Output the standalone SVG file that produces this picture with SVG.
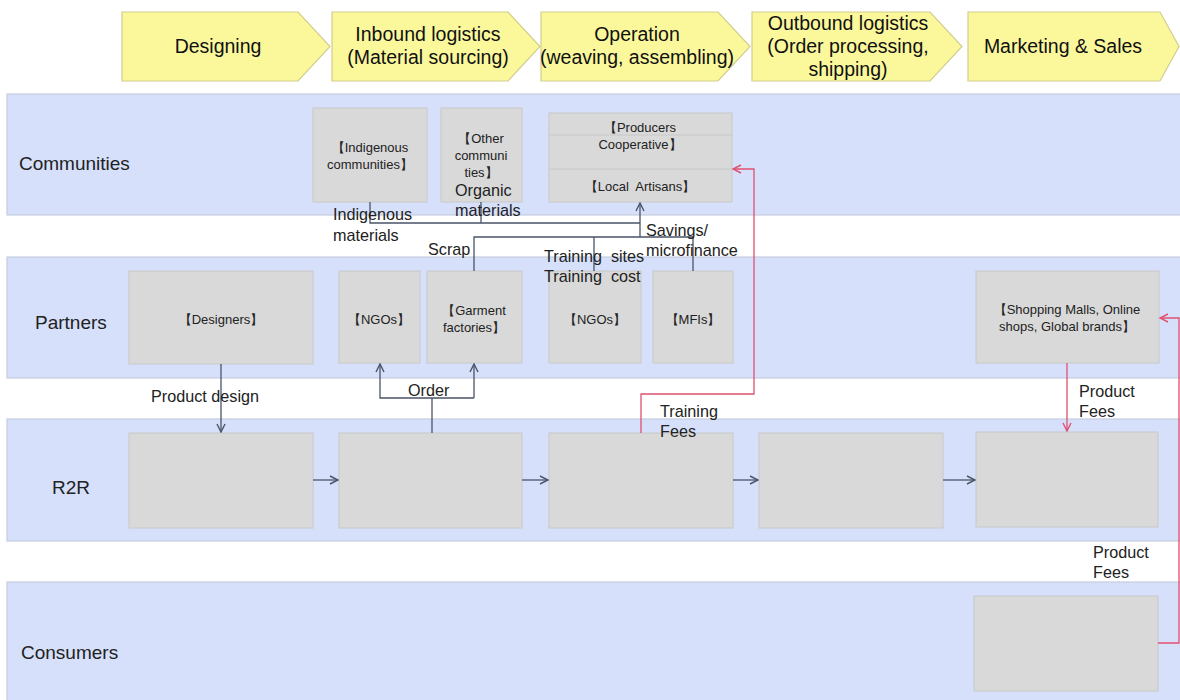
<svg xmlns="http://www.w3.org/2000/svg" width="1180" height="700" viewBox="0 0 1180 700">
<defs>
<style>
.chev{fill:#fbf89c;stroke:#d2cd8e;stroke-width:1.2}
.lane{fill:#d6e0fb;stroke:#c4ccde;stroke-width:1.2}
.box{fill:#d9d9d9;stroke:#c8c8c8;stroke-width:1}
.ht{font-family:"Liberation Sans",Arial,sans-serif;font-size:19.5px;fill:#111;text-anchor:middle}
.lt{font-family:"Liberation Sans",Arial,sans-serif;font-size:19px;fill:#222}
.bt{font-family:"Liberation Sans",Arial,sans-serif;font-size:13px;fill:#222;text-anchor:middle}
.cl{font-family:"Liberation Sans",Arial,sans-serif;font-size:16.2px;fill:#222}
.dk{fill:none;stroke:#4a5468;stroke-width:1.3}
.rd{fill:none;stroke:#e0506f;stroke-width:1.3}
</style>
<marker id="ad" viewBox="0 0 10 10" refX="9" refY="5" markerWidth="10" markerHeight="10" markerUnits="userSpaceOnUse" orient="auto"><path d="M1,1 L9,5 L1,9" fill="none" stroke="#4a5468" stroke-width="1.4"/></marker>
<marker id="ar" viewBox="0 0 10 10" refX="9" refY="5" markerWidth="10" markerHeight="10" markerUnits="userSpaceOnUse" orient="auto"><path d="M1,1 L9,5 L1,9" fill="none" stroke="#e0506f" stroke-width="1.4"/></marker>
</defs>
<rect width="1180" height="700" fill="#ffffff"/>

<g id="stages">
<g id="stage-designing"><polygon class="chev" points="122,12 298,12 330,46.5 298,81 122,81"/><text class="ht" x="218" y="53">Designing</text></g>
<g id="stage-inbound"><polygon class="chev" points="332,12 508,12 540,46.5 508,81 332,81"/><text class="ht" x="428" y="41">Inbound logistics</text><text class="ht" x="428" y="64">(Material sourcing)</text></g>
<g id="stage-operation"><polygon class="chev" points="541,12 718,12 750,46.5 718,81 541,81"/><text class="ht" x="637" y="41">Operation</text><text class="ht" x="637" y="64">(weaving, assembling)</text></g>
<g id="stage-outbound"><polygon class="chev" points="752,12 930,12 962,46.5 930,81 752,81"/><text class="ht" x="848" y="30">Outbound logistics</text><text class="ht" x="848" y="53">(Order processing,</text><text class="ht" x="848" y="76">shipping)</text></g>
<g id="stage-marketing"><polygon class="chev" points="968,12 1160,12 1179,46.5 1160,81 968,81"/><text class="ht" x="1063" y="53">Marketing &amp; Sales</text></g>
</g>

<g id="lanes">
<g id="lane-communities"><rect class="lane" x="7" y="94" width="1180" height="121"/><text class="lt" x="19" y="170">Communities</text></g>
<g id="lane-partners"><rect class="lane" x="7" y="257" width="1180" height="121"/><text class="lt" x="35" y="329">Partners</text></g>
<g id="lane-r2r"><rect class="lane" x="7" y="419" width="1180" height="122"/><text class="lt" x="52" y="494">R2R</text></g>
<g id="lane-consumers"><rect class="lane" x="7" y="582" width="1180" height="125"/><text class="lt" x="21" y="659">Consumers</text></g>
</g>

<g id="node-indigenous"><rect class="box" x="313" y="108" width="114" height="94"/><text class="bt" x="370" y="152">【Indigenous</text><text class="bt" x="370" y="169">communities】</text></g>
<g id="node-other"><rect class="box" x="441" y="108" width="81" height="94"/><text class="bt" x="481" y="143">【Other</text><text class="bt" x="481" y="160">communi</text><text class="bt" x="481" y="177">ties】</text></g>
<g id="node-coop"><rect class="box" x="549" y="113" width="183" height="89"/><line x1="549" y1="135" x2="732" y2="135" stroke="#c8c8c8"/><line x1="549" y1="169" x2="732" y2="169" stroke="#c8c8c8"/><text class="bt" x="640" y="132">【Producers</text><text class="bt" x="640" y="149">Cooperative】</text><text class="bt" x="640" y="191" xml:space="preserve">【Local  Artisans】</text></g>

<g id="node-designers"><rect class="box" x="129" y="271" width="184" height="93"/><text class="bt" x="221" y="324">【Designers】</text></g>
<g id="node-ngos1"><rect class="box" x="339" y="271" width="81" height="92"/><text class="bt" x="379" y="324">【NGOs】</text></g>
<g id="node-garment"><rect class="box" x="427" y="271" width="95" height="92"/><text class="bt" x="474" y="315">【Garment</text><text class="bt" x="474" y="332">factories】</text></g>
<g id="node-ngos2"><rect class="box" x="549" y="271" width="92" height="92"/><text class="bt" x="595" y="324">【NGOs】</text></g>
<g id="node-mfis"><rect class="box" x="653" y="271" width="80" height="92"/><text class="bt" x="693" y="324">【MFIs】</text></g>
<g id="node-malls"><rect class="box" x="976" y="271" width="183" height="92"/><text class="bt" x="1067" y="314">【Shopping Malls, Online</text><text class="bt" x="1067" y="331">shops, Global brands】</text></g>

<g id="node-r2r1"><rect class="box" x="129" y="433" width="184" height="95"/></g>
<g id="node-r2r2"><rect class="box" x="339" y="433" width="183" height="95"/></g>
<g id="node-r2r3"><rect class="box" x="549" y="433" width="184" height="95"/></g>
<g id="node-r2r4"><rect class="box" x="759" y="433" width="184" height="95"/></g>
<g id="node-r2r5"><rect class="box" x="976" y="432" width="182" height="95"/></g>
<g id="node-consumer"><rect class="box" x="974" y="596" width="184" height="95"/></g>

<g id="connectors">
<polyline class="dk" points="370,202 370,223 640,223"/>
<line class="dk" x1="481" y1="202" x2="481" y2="223"/>
<polyline class="dk" points="474,271 474,237 693,237 693,271"/>
<line class="dk" x1="594" y1="237" x2="594" y2="271"/>
<line class="dk" x1="640" y1="237" x2="640" y2="203" marker-end="url(#ad)"/>
<line class="dk" x1="221" y1="364" x2="221" y2="432" marker-end="url(#ad)"/>
<line class="dk" x1="432" y1="433" x2="432" y2="398"/>
<polyline class="dk" points="474,398 380,398 380,364" marker-end="url(#ad)"/>
<line class="dk" x1="474" y1="398" x2="474" y2="364" marker-end="url(#ad)"/>
<line class="dk" x1="313" y1="480" x2="338" y2="480" marker-end="url(#ad)"/>
<line class="dk" x1="522" y1="480" x2="548" y2="480" marker-end="url(#ad)"/>
<line class="dk" x1="733" y1="480" x2="758" y2="480" marker-end="url(#ad)"/>
<line class="dk" x1="943" y1="480" x2="975" y2="480" marker-end="url(#ad)"/>
<polyline class="rd" points="641,433 641,394 754,394 754,169 733,169" marker-end="url(#ar)"/>
<line class="rd" x1="1067" y1="363" x2="1067" y2="431" marker-end="url(#ar)"/>
<polyline class="rd" points="1158,643 1179,643 1179,318 1160,318" marker-end="url(#ar)"/>
</g>

<g id="labels">
<text class="cl" x="333" y="220">Indigenous</text>
<text class="cl" x="333" y="241">materials</text>
<text class="cl" x="455" y="196">Organic</text>
<text class="cl" x="455" y="216">materials</text>
<text class="cl" x="428" y="255">Scrap</text>
<text class="cl" x="646" y="236">Savings/</text>
<text class="cl" x="646" y="256">microfinance</text>
<text class="cl" x="544" y="262" xml:space="preserve">Training  sites</text>
<text class="cl" x="544" y="282" xml:space="preserve">Training  cost</text>
<text class="cl" x="151" y="402">Product design</text>
<text class="cl" x="408" y="396">Order</text>
<text class="cl" x="660" y="417">Training</text>
<text class="cl" x="660" y="437">Fees</text>
<text class="cl" x="1079" y="397">Product</text>
<text class="cl" x="1079" y="417">Fees</text>
<text class="cl" x="1093" y="558">Product</text>
<text class="cl" x="1093" y="578">Fees</text>
</g>
</svg>
